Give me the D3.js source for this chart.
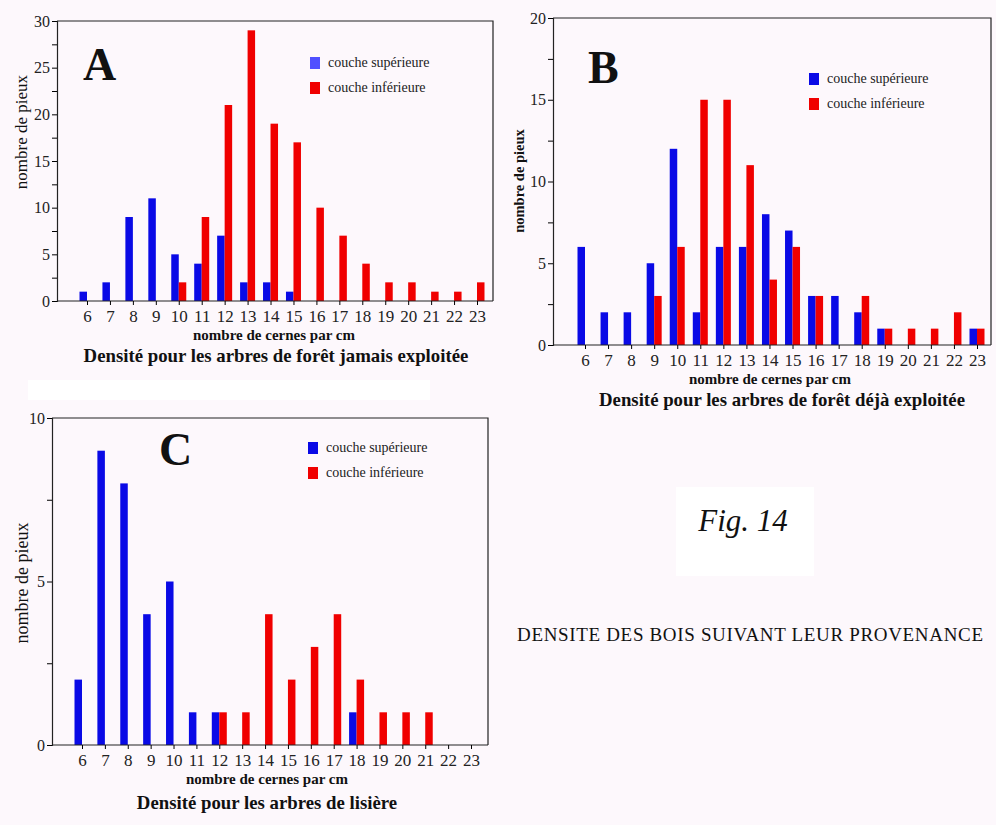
<!DOCTYPE html>
<html>
<head>
<meta charset="utf-8">
<script src="https://cdn.jsdelivr.net/npm/d3@7"></script>
<style>
  body { margin: 0; background: #fdf8fc; }
  svg { display: block; font-family: "Liberation Serif", "DejaVu Serif", serif; }
</style>
</head>
<body>
<svg id="fig" width="996" height="825"></svg>
<script>
// classes de densite (nombre de cernes par cm)
var categories = [6, 7, 8, 9, 10, 11, 12, 13, 14, 15, 16, 17, 18, 19, 20, 21, 22, 23];

// A : foret jamais exploitee
var supA = [1, 2, 9, 11, 5, 4, 7, 2, 2, 1, 0, 0, 0, 0, 0, 0, 0, 0];
var infA = [0, 0, 0, 0, 2, 9, 21, 29, 19, 17, 10, 7, 4, 2, 2, 1, 1, 2];
// B : foret deja exploitee
var supB = [6, 2, 2, 5, 12, 2, 6, 6, 8, 7, 3, 3, 2, 1, 0, 0, 0, 1];
var infB = [0, 0, 0, 3, 6, 15, 15, 11, 4, 6, 3, 0, 3, 1, 1, 1, 2, 1];
// C : lisiere
var supC = [2, 9, 8, 4, 5, 1, 1, 0, 0, 0, 0, 0, 1, 0, 0, 0, 0, 0];
var infC = [0, 0, 0, 0, 0, 0, 1, 1, 4, 2, 3, 4, 2, 1, 1, 1, 0, 0];

var yMaxA = 30, yMaxB = 20, yMaxC = 10;
var legendLabels = ["couche supérieure", "couche inférieure"];
var titles = [
  "Densité pour les arbres de forêt jamais exploitée",
  "Densité pour les arbres de forêt déjà exploitée",
  "Densité pour les arbres de lisière"
];

var svg = d3.select("#fig");
var BLUE = "#0a0ae6", RED = "#f00000";

// white patches from the scanned page
svg.append("rect").attr("x", 28).attr("y", 380).attr("width", 402).attr("height", 20).attr("fill", "#fff");
svg.append("rect").attr("x", 676).attr("y", 487).attr("width", 138).attr("height", 89).attr("fill", "#fff");

function drawPanel(p) {
  var g = svg.append("g");
  var x = d3.scalePoint().domain(categories).range([p.x0, p.x1]);
  var y = d3.scaleLinear().domain([0, p.ymax]).range([p.bottom, p.top]);
  var bw = 7.5;

  // frame top + right
  g.append("path")
    .attr("d", "M" + p.left + "," + p.top + "H" + p.right + "V" + p.bottom)
    .attr("fill", "none").attr("stroke", "#222").attr("stroke-width", 1.2);

  // bars
  g.selectAll(".sup").data(categories).enter().append("rect")
    .attr("x", function(d) { return x(d) - bw; })
    .attr("y", function(d, i) { return y(p.sup[i]); })
    .attr("width", bw)
    .attr("height", function(d, i) { return y(0) - y(p.sup[i]); })
    .attr("fill", BLUE);
  g.selectAll(".inf").data(categories).enter().append("rect")
    .attr("x", function(d) { return x(d); })
    .attr("y", function(d, i) { return y(p.inf[i]); })
    .attr("width", bw)
    .attr("height", function(d, i) { return y(0) - y(p.inf[i]); })
    .attr("fill", RED);

  // y axis (major + minor ticks)
  var yAxis = d3.axisLeft(y).tickValues(d3.range(0, p.ymax + 0.1, 2.5))
    .tickSize(5).tickPadding(2)
    .tickFormat(function(d) { return d % 5 === 0 ? d : ""; });
  var ya = g.append("g").attr("transform", "translate(" + p.left + ",0)").call(yAxis);
  ya.select(".domain").attr("stroke", "#222").attr("stroke-width", 1.2);
  ya.selectAll("text").attr("font-size", 16).attr("fill", "#222")
    .attr("font-family", "Liberation Serif, serif");

  // x axis
  var xa = g.append("g").attr("transform", "translate(0," + p.bottom + ")")
    .call(d3.axisBottom(x).tickSize(4).tickPadding(5).tickSizeOuter(0));
  xa.select(".domain").attr("d", "M" + p.left + ",0H" + p.right).attr("stroke", "#222").attr("stroke-width", 1.2);
  xa.selectAll("text").attr("font-size", 17).attr("fill", "#222")
    .attr("font-family", "Liberation Serif, serif");

  // big letter
  g.append("text").attr("x", p.letterX).attr("y", p.letterY)
    .attr("font-size", 46).attr("font-weight", "bold").attr("fill", "#111").text(p.letter);

  // legend
  var cols = [p.legendBlue, RED];
  legendLabels.forEach(function(lbl, i) {
    g.append("rect").attr("x", p.legX).attr("y", p.legY + i * 25 - 10)
      .attr("width", 10).attr("height", 12).attr("fill", cols[i]);
    g.append("text").attr("x", p.legX + 18).attr("y", p.legY + i * 25)
      .attr("font-size", 14).attr("fill", "#222").text(lbl);
  });

  // y label
  g.append("text")
    .attr("transform", "translate(" + p.ylabX + "," + p.ylabY + ") rotate(-90)")
    .attr("text-anchor", "middle").attr("font-size", p.ylabSize)
    .attr("font-weight", p.ylabBold ? "bold" : "normal").attr("fill", "#111")
    .text("nombre de pieux");

  // x label + title
  g.append("text").attr("x", p.xlabX).attr("y", p.xlabY).attr("text-anchor", "middle")
    .attr("font-size", 15).attr("font-weight", "bold").attr("fill", "#111")
    .text("nombre de cernes par cm");
  g.append("text").attr("x", p.titleX).attr("y", p.titleY).attr("text-anchor", "middle")
    .attr("font-size", 18.8).attr("font-weight", "bold").attr("fill", "#111")
    .text(p.title);
}

drawPanel({
  sup: supA, inf: infA, ymax: yMaxA, letter: "A", title: titles[0],
  left: 57, right: 493, top: 21, bottom: 301, x0: 87, x1: 477,
  letterX: 83, letterY: 80, legX: 310, legY: 67, legendBlue: "#5050ff",
  ylabX: 27, ylabY: 132, ylabSize: 17, ylabBold: false,
  xlabX: 274, xlabY: 340, titleX: 276, titleY: 362
});
drawPanel({
  sup: supB, inf: infB, ymax: yMaxB, letter: "B", title: titles[1],
  left: 553, right: 991, top: 18, bottom: 345, x0: 585, x1: 977,
  letterX: 588, letterY: 83, legX: 809, legY: 83, legendBlue: BLUE,
  ylabX: 524, ylabY: 181, ylabSize: 14.5, ylabBold: true,
  xlabX: 770, xlabY: 384, titleX: 782, titleY: 406
});
drawPanel({
  sup: supC, inf: infC, ymax: yMaxC, letter: "C", title: titles[2],
  left: 52, right: 488, top: 418, bottom: 745, x0: 82, x1: 471,
  letterX: 159, letterY: 465, legX: 308, legY: 452, legendBlue: BLUE,
  ylabX: 28, ylabY: 583, ylabSize: 18, ylabBold: false,
  xlabX: 267, xlabY: 784, titleX: 267, titleY: 809
});

// figure caption
svg.append("text").attr("x", 743).attr("y", 531).attr("text-anchor", "middle")
  .attr("font-size", 31).attr("font-style", "italic").attr("fill", "#111").text("Fig. 14");
svg.append("text").attr("x", 750).attr("y", 641).attr("text-anchor", "middle")
  .attr("font-size", 19).attr("fill", "#111")
  .attr("textLength", 466).attr("lengthAdjust", "spacing")
  .text("DENSITE DES BOIS SUIVANT LEUR PROVENANCE");
</script>
</body>
</html>
